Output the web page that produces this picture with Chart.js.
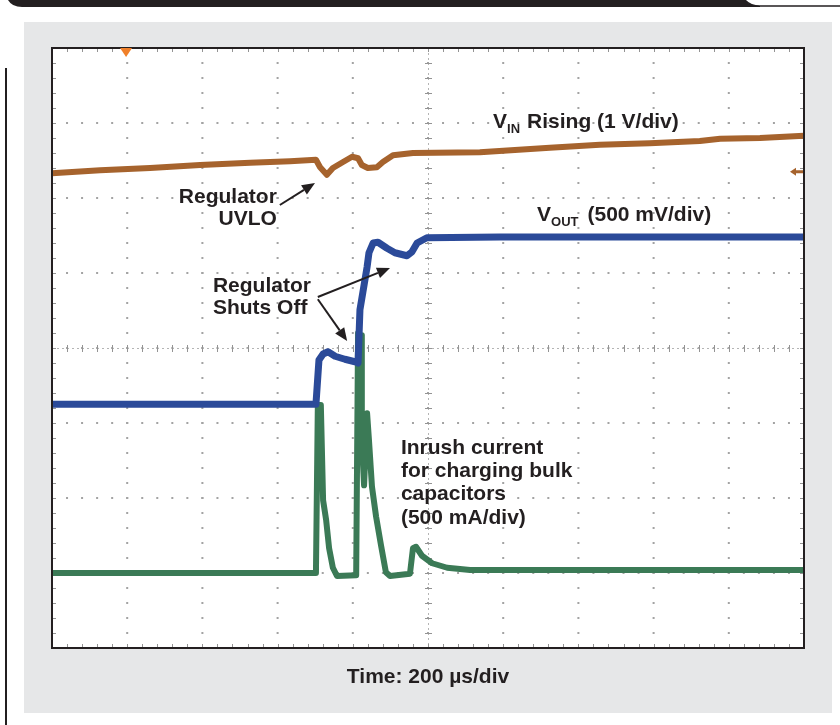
<!DOCTYPE html>
<html>
<head>
<meta charset="utf-8">
<title>Regulator start-up: VIN, VOUT and inrush current</title>
<script src="https://cdn.jsdelivr.net/npm/chart.js@4.4.1/dist/chart.umd.min.js"></script>
<style>
  html, body { margin: 0; padding: 0; background: #ffffff; }
  #wrap { position: relative; width: 840px; height: 725px; overflow: hidden; }
  #scope { position: absolute; left: 0; top: 0; }
</style>
</head>
<body>
<div id="wrap"><canvas id="scope" width="840" height="725"></canvas></div>
<script>
// Horizontal: 200 µs per division, 10 divisions. Vertical: 8 divisions, centre = 0.
const timeDivUs = 200;
const timeTicksUs = [0, 200, 400, 600, 800, 1000, 1200, 1400, 1600, 1800, 2000];
const levelTicksDiv = [-4, -3, -2, -1, 0, 1, 2, 3, 4];

// Channel 1: input voltage, 1 V/div (in divisions)
const vinTimeUs = [0, 128, 261, 394, 527, 633, 702, 713, 731, 747, 774, 798, 814, 824, 840, 864, 880, 907, 960, 1138, 1324, 1457, 1590, 1723, 1777, 1883, 2000];
const vinDiv    = [2.33, 2.37, 2.40, 2.44, 2.47, 2.49, 2.51, 2.41, 2.31, 2.40, 2.48, 2.55, 2.53, 2.44, 2.40, 2.41, 2.48, 2.57, 2.60, 2.61, 2.67, 2.71, 2.73, 2.76, 2.79, 2.80, 2.83];

// Channel 2: output voltage, 500 mV/div
const voutTimeUs = [0, 702, 710, 721, 734, 753, 779, 811, 814, 819, 827, 838, 843, 854, 867, 891, 912, 944, 957, 971, 997, 1191, 2000];
const voutDiv    = [-0.75, -0.75, -0.16, -0.08, -0.05, -0.11, -0.15, -0.19, -0.20, 0.51, 0.75, 1.08, 1.27, 1.40, 1.41, 1.33, 1.27, 1.23, 1.28, 1.40, 1.47, 1.48, 1.48];

// Channel 3: input current, 500 mA/div
const iinTimeUs = [0, 702, 707, 715, 721, 729, 737, 747, 758, 809, 814, 822, 824, 830, 838, 843, 851, 862, 875, 888, 899, 952, 960, 968, 984, 1011, 1051, 1112, 2000];
const iinDiv    = [-3.00, -3.00, -0.76, -0.76, -2.03, -2.29, -2.67, -2.93, -3.04, -3.03, 0.20, 0.17, -1.23, -1.83, -0.87, -1.23, -1.85, -2.25, -2.63, -2.99, -3.04, -3.01, -2.67, -2.65, -2.77, -2.87, -2.93, -2.96, -2.96];

// Scope markers
const triggerTimeUs = 197;
const vinGroundDiv = 2.35;

const toPoints = (ts, vs) => ts.map((t, i) => ({ x: t, y: vs[i] }));

const FONT = '"Liberation Sans", Arial, Helvetica, sans-serif';
const INK = '#231f20';
const COL_VIN = '#a6632d';
const COL_VOUT = '#2b4a99';
const COL_IIN = '#3b7a56';

function arrow(ctx, x1, y1, x2, y2) {
  const ang = Math.atan2(y2 - y1, x2 - x1);
  const len = 13, half = 5.5;
  const bx = x2 - len * Math.cos(ang), by = y2 - len * Math.sin(ang);
  ctx.beginPath();
  ctx.moveTo(x1, y1);
  ctx.lineTo(bx, by);
  ctx.stroke();
  ctx.beginPath();
  ctx.moveTo(x2, y2);
  ctx.lineTo(bx + half * Math.sin(ang), by - half * Math.cos(ang));
  ctx.lineTo(bx - half * Math.sin(ang), by + half * Math.cos(ang));
  ctx.closePath();
  ctx.fill();
}

// Label with subscript, e.g. V_IN
function subLabel(ctx, x, y, main, sub, rest, gap) {
  ctx.textAlign = 'left';
  ctx.font = 'bold 21px ' + FONT;
  ctx.fillText(main, x, y);
  let cx = x + ctx.measureText(main).width;
  ctx.font = 'bold 13px ' + FONT;
  ctx.fillText(sub, cx, y + 5);
  cx += ctx.measureText(sub).width + gap;
  ctx.font = 'bold 21px ' + FONT;
  ctx.fillText(rest, cx, y);
}

const pagePlugin = {
  id: 'scopePage',
  beforeDraw(chart) {
    const { ctx, chartArea: a } = chart;
    const W = chart.width, H = chart.height;
    ctx.save();
    ctx.fillStyle = '#ffffff';
    ctx.fillRect(0, 0, W, H);
    // header band
    ctx.fillStyle = INK;
    ctx.beginPath();
    ctx.moveTo(8, 0);
    ctx.lineTo(760, 0);
    ctx.lineTo(760, 7);
    ctx.lineTo(22, 7);
    ctx.quadraticCurveTo(12, 7, 8, 0);
    ctx.fill();
    // tab on the right of the header
    ctx.fillStyle = '#ffffff';
    ctx.strokeStyle = INK;
    ctx.lineWidth = 1.5;
    ctx.beginPath();
    ctx.moveTo(745, 0);
    ctx.quadraticCurveTo(750, 6, 760, 6);
    ctx.lineTo(840, 6);
    ctx.lineTo(840, 0);
    ctx.closePath();
    ctx.fill();
    ctx.beginPath();
    ctx.moveTo(745, 0);
    ctx.quadraticCurveTo(750, 6, 760, 6);
    ctx.lineTo(840, 6);
    ctx.stroke();
    // grey figure panel
    ctx.fillStyle = '#e6e7e8';
    ctx.fillRect(24, 22, 808, 691);
    // left rule
    ctx.fillStyle = INK;
    ctx.fillRect(5, 68, 2, H - 68);
    // screen
    ctx.fillStyle = '#ffffff';
    ctx.fillRect(a.left, a.top, a.right - a.left, a.bottom - a.top);
    ctx.restore();
  },
  beforeDatasetsDraw(chart) {
    const { ctx, chartArea: a, scales: { x, y } } = chart;
    ctx.save();
    const step = timeDivUs / 5;
    // dotted division lines
    ctx.fillStyle = '#a3a3a3';
    for (const t of timeTicksUs) {
      const px = x.getPixelForValue(t);
      for (let k = -20; k <= 20; k++) {
        const py = y.getPixelForValue(k / 5);
        ctx.fillRect(px - 1, py - 1, 2, 2);
      }
    }
    for (const d of levelTicksDiv) {
      const py = y.getPixelForValue(d);
      for (let k = 0; k <= 50; k++) {
        const px = x.getPixelForValue(k * step);
        ctx.fillRect(px - 1, py - 1, 2, 2);
      }
    }
    // centre graticule with minor ticks
    const cx = x.getPixelForValue(1000), cy = y.getPixelForValue(0);
    ctx.strokeStyle = '#b4b4b4';
    ctx.lineWidth = 1;
    ctx.setLineDash([2, 3]);
    ctx.beginPath();
    ctx.moveTo(a.left, cy + 0.5); ctx.lineTo(a.right, cy + 0.5);
    ctx.moveTo(cx + 0.5, a.top); ctx.lineTo(cx + 0.5, a.bottom);
    ctx.stroke();
    ctx.setLineDash([]);
    ctx.strokeStyle = '#949494';
    ctx.beginPath();
    for (let k = 0; k <= 50; k++) {
      const px = Math.round(x.getPixelForValue(k * step)) + 0.5;
      ctx.moveTo(px, cy - 3); ctx.lineTo(px, cy + 4);
      ctx.moveTo(px, a.top); ctx.lineTo(px, a.top + 4);
      ctx.moveTo(px, a.bottom); ctx.lineTo(px, a.bottom - 4);
    }
    for (let k = -20; k <= 20; k++) {
      const py = Math.round(y.getPixelForValue(k / 5)) + 0.5;
      ctx.moveTo(cx - 3, py); ctx.lineTo(cx + 4, py);
      ctx.moveTo(a.left, py); ctx.lineTo(a.left + 4, py);
      ctx.moveTo(a.right, py); ctx.lineTo(a.right - 4, py);
    }
    ctx.stroke();
    ctx.restore();
  },
  afterDatasetsDraw(chart) {
    const { ctx, chartArea: a, scales: { x, y } } = chart;
    ctx.save();
    // screen frame
    ctx.strokeStyle = INK;
    ctx.lineWidth = 2;
    ctx.strokeRect(a.left, a.top, a.right - a.left, a.bottom - a.top);

    // trigger position marker
    const tx = x.getPixelForValue(triggerTimeUs);
    ctx.fillStyle = '#f0802a';
    ctx.beginPath();
    ctx.moveTo(tx - 6, a.top);
    ctx.lineTo(tx + 6, a.top);
    ctx.lineTo(tx, a.top + 9);
    ctx.closePath();
    ctx.fill();

    // channel 1 ground marker
    const gy = y.getPixelForValue(vinGroundDiv);
    ctx.fillStyle = COL_VIN;
    ctx.beginPath();
    ctx.moveTo(a.right - 14, gy);
    ctx.lineTo(a.right - 8, gy - 4);
    ctx.lineTo(a.right - 8, gy + 4);
    ctx.closePath();
    ctx.fill();
    ctx.fillRect(a.right - 9, gy - 1.5, 8, 3);

    // annotations
    ctx.fillStyle = INK;
    ctx.strokeStyle = INK;
    ctx.lineWidth = 2;
    ctx.textBaseline = 'alphabetic';
    const P = (t, d) => [x.getPixelForValue(t), y.getPixelForValue(d)];

    ctx.font = 'bold 21px ' + FONT;
    ctx.textAlign = 'right';
    let p = P(598, 1.933); ctx.fillText('Regulator', p[0], p[1]);
    p = P(598, 1.64); ctx.fillText('UVLO', p[0], p[1]);

    ctx.textAlign = 'left';
    p = P(428, 0.747); ctx.fillText('Regulator', p[0], p[1]);
    p = P(428, 0.453); ctx.fillText('Shuts Off', p[0], p[1]);

    const inrush = ['Inrush current', 'for charging bulk', 'capacitors', '(500 mA/div)'];
    const inrushBase = [-1.413, -1.72, -2.033, -2.347];
    inrush.forEach((s, i) => { const q = P(928, inrushBase[i]); ctx.fillText(s, q[0], q[1]); });

    p = P(1173, 2.933); subLabel(ctx, p[0], p[1], 'V', 'IN', 'Rising (1 V/div)', 7);
    p = P(1290, 1.693); subLabel(ctx, p[0], p[1], 'V', 'OUT', '(500 mV/div)', 9);

    let s = P(606, 1.907), e = P(699.5, 2.2); arrow(ctx, s[0], s[1], e[0], e[1]);
    s = P(707, 0.68); e = P(899, 1.067); arrow(ctx, s[0], s[1], e[0], e[1]);
    s = P(707, 0.65); e = P(785, 0.093); arrow(ctx, s[0], s[1], e[0], e[1]);

    // time base readout
    ctx.textAlign = 'center';
    ctx.font = 'bold 21px ' + FONT;
    ctx.fillText('Time: ' + timeDivUs + ' µs/div', (a.left + a.right) / 2, a.bottom + 35);
    ctx.restore();
  }
};

new Chart(document.getElementById('scope'), {
  type: 'line',
  data: {
    datasets: [
      { label: 'VOUT (500 mV/div)', data: toPoints(voutTimeUs, voutDiv), borderColor: COL_VOUT, borderWidth: 7 },
      { label: 'VIN Rising (1 V/div)', data: toPoints(vinTimeUs, vinDiv), borderColor: COL_VIN, borderWidth: 6 },
      { label: 'Inrush current (500 mA/div)', data: toPoints(iinTimeUs, iinDiv), borderColor: COL_IIN, borderWidth: 6 }
    ]
  },
  options: {
    responsive: false,
    animation: false,
    devicePixelRatio: 1,
    layout: { padding: { left: 52, right: 36, top: 48, bottom: 77 } },
    elements: {
      point: { radius: 0 },
      line: { tension: 0, borderJoinStyle: 'round', borderCapStyle: 'butt', fill: false }
    },
    scales: {
      x: { type: 'linear', min: 0, max: 2000, display: false },
      y: { type: 'linear', min: -4, max: 4, display: false }
    },
    plugins: { legend: { display: false }, tooltip: { enabled: false } }
  },
  plugins: [pagePlugin]
});
</script>
</body>
</html>
